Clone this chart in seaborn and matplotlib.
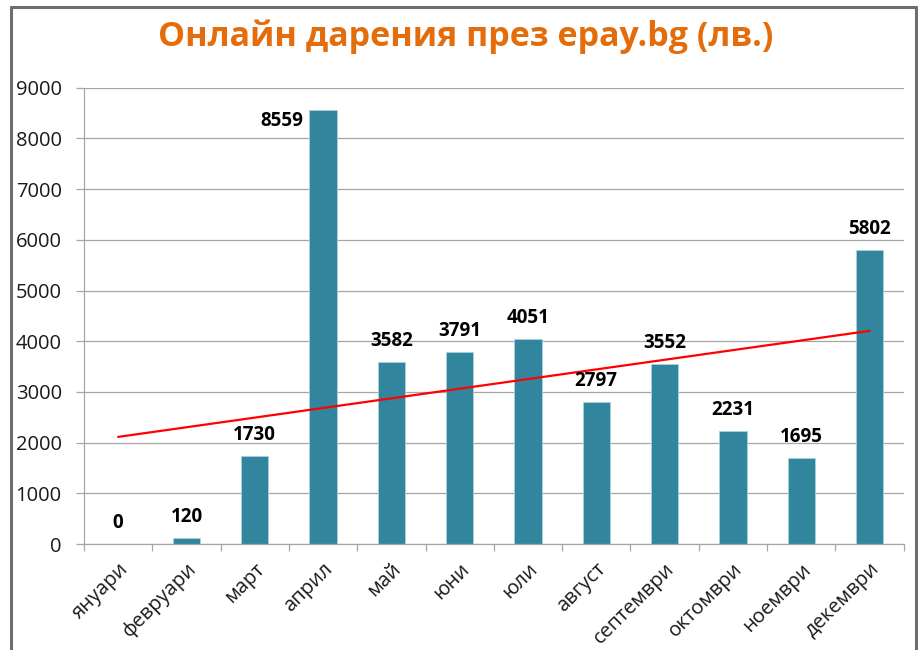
"""Online donations via epay.bg per month (BGN), bar chart with linear trend."""

import matplotlib

matplotlib.use("Agg")
import matplotlib.pyplot as plt  # noqa: E402
import matplotlib.transforms as mtransforms  # noqa: E402
import numpy as np  # noqa: E402
import pandas as pd  # noqa: E402
import seaborn as sns  # noqa: E402
from matplotlib.lines import Line2D  # noqa: E402
from matplotlib.ticker import FixedLocator, MultipleLocator  # noqa: E402

TITLE = "Онлайн дарения през epay.bg (лв.)"
MONTHS = [
    "януари", "февруари", "март", "април", "май", "юни",
    "юли", "август", "септември", "октомври", "ноември", "декември",
]
DONATIONS = [0, 120, 1730, 8559, 3582, 3791, 4051, 2797, 3552, 2231, 1695, 5802]

BAR_COLOR = "#31859C"
TITLE_COLOR = "#E46C0A"
GRID_COLOR = "#A6A6A6"
TEXT_COLOR = "#1A1A1A"

sns.set_style("white")
plt.rcParams["font.family"] = ["Open Sans", "DejaVu Sans"]

df = pd.DataFrame({"month": MONTHS, "amount": DONATIONS})

fig = plt.figure(figsize=(9.23, 6.5), dpi=100)
ax = fig.add_axes([0.091, 0.163, 0.888, 0.702])

sns.barplot(data=df, x="month", y="amount", color=BAR_COLOR, saturation=1,
            width=0.4, edgecolor="#A9D3DC", linewidth=0.6, ax=ax)

# linear trend over the month positions
pos = np.arange(len(MONTHS))
sns.regplot(x=pos, y=np.array(DONATIONS, dtype=float), scatter=False, ci=None,
            truncate=True, color="#FF0000", line_kws={"linewidth": 1.6}, ax=ax)

ymax = 9000
ax.set_xlim(-0.5, len(MONTHS) - 0.5)
ax.set_ylim(0, ymax)
ax.yaxis.set_major_locator(MultipleLocator(1000))
ax.grid(axis="y", color=GRID_COLOR, linewidth=0.9)
ax.set_axisbelow(True)
for side in ("top", "right"):
    ax.spines[side].set_visible(False)
for side in ("left", "bottom"):
    ax.spines[side].set_color(GRID_COLOR)
    ax.spines[side].set_linewidth(0.9)

ax.xaxis.set_major_locator(FixedLocator(pos))
ax.set_xticklabels(MONTHS, rotation=45, ha="right", rotation_mode="anchor",
                   fontsize=14.5, color=TEXT_COLOR)
shift = mtransforms.ScaledTranslation(-11 / 72, 0, fig.dpi_scale_trans)
for lbl in ax.get_xticklabels():
    lbl.set_transform(lbl.get_transform() + shift)
ax.xaxis.set_minor_locator(FixedLocator(np.arange(len(MONTHS) + 1) - 0.5))
ax.tick_params(axis="x", which="major", length=0, pad=11)
ax.tick_params(axis="x", which="minor", length=5, width=0.9, color=GRID_COLOR,
               direction="out", bottom=True)
ax.tick_params(axis="y", length=6, width=0.9, color=GRID_COLOR, pad=10,
               labelsize=14.5, labelcolor=TEXT_COLOR, left=True)
ax.set_xlabel("")
ax.set_ylabel("")

# value labels: above the bar, or to the left when the bar reaches the top
for x, v in zip(pos, DONATIONS):
    if v > 0.9 * ymax:
        ax.annotate(f"{v}", (x - 0.2, v), xytext=(-4.5, -11.5), textcoords="offset points",
                    ha="right", va="baseline", fontsize=13.5, fontweight="bold", color="black")
    else:
        ax.annotate(f"{v}", (x, v), xytext=(0, 11.5), textcoords="offset points",
                    ha="center", va="baseline", fontsize=13.5, fontweight="bold", color="black")

fig.text(0.504, 0.943, TITLE, ha="center", va="center", fontsize=24.5,
         fontweight="bold", color=TITLE_COLOR)

# slide frame around the chart
frame = dict(color="#6E6E6E", linewidth=2.2, transform=fig.transFigure)
fig.add_artist(Line2D([0.0115, 0.0115], [0.0, 0.989], **frame))
fig.add_artist(Line2D([0.0115, 0.992], [0.989, 0.989], **frame))
fig.add_artist(Line2D([0.992, 0.992], [0.0, 0.989], **frame))

fig.savefig("out.png", dpi=100)
plt.close(fig)
